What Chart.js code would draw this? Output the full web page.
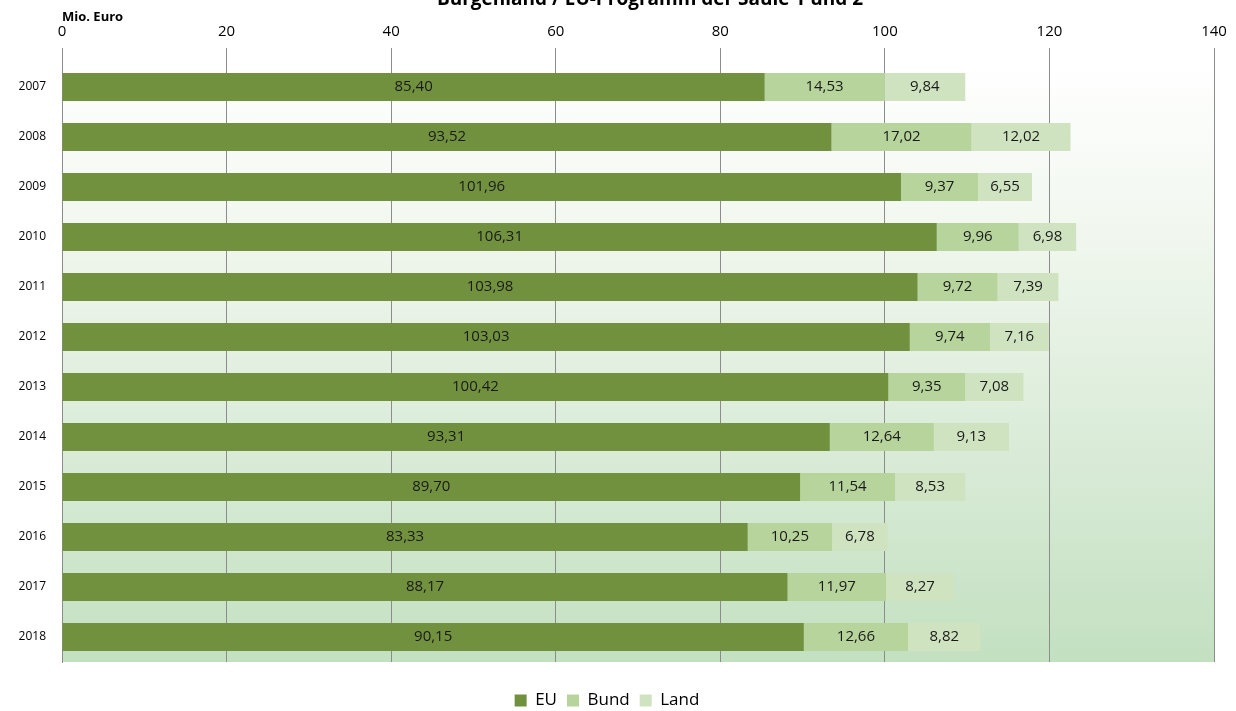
<!DOCTYPE html>
<html>
<head>
<meta charset="utf-8">
<script src="https://cdn.jsdelivr.net/npm/chart.js@4/dist/chart.umd.min.js"></script>
<style>
  body { margin:0; background:#fff; }
  #wrap { position:absolute; left:0; top:0; width:1236px; height:711px; }
</style>
</head>
<body>
<div id="wrap"><canvas id="mycanvas"></canvas></div>
<script>
var years = ['2007','2008','2009','2010','2011','2012','2013','2014','2015','2016','2017','2018'];
var eu   = [85.40, 93.52, 101.96, 106.31, 103.98, 103.03, 100.42, 93.31, 89.70, 83.33, 88.17, 90.15];
var bund = [14.53, 17.02, 9.37, 9.96, 9.72, 9.74, 9.35, 12.64, 11.54, 10.25, 11.97, 12.66];
var land = [9.84, 12.02, 6.55, 6.98, 7.39, 7.16, 7.08, 9.13, 8.53, 6.78, 8.27, 8.82];
var xTicks = [0, 20, 40, 60, 80, 100, 120, 140];

var FONT = "'Open Sans', 'Liberation Sans', sans-serif";

// gradient behind the plot area
var bgPlugin = {
  id: 'bg',
  afterLayout: function(chart){
    // push the legend a bit further down, like the original
    chart.legend.top += 20;
    chart.legend.bottom += 20;
  },
  beforeDraw: function(chart){
    var a = chart.chartArea, ctx = chart.ctx;
    var g = ctx.createLinearGradient(0, a.top, 0, a.bottom);
    g.addColorStop(0, '#ffffff');
    g.addColorStop(0.25, '#f3f8f1');
    g.addColorStop(1, '#c3e0c1');
    ctx.save();
    ctx.fillStyle = g;
    ctx.fillRect(a.left, a.top, a.right - a.left, a.bottom - a.top);
    ctx.restore();
  }
};

// numbers inside the bars, German comma
var labelPlugin = {
  id: 'vals',
  afterDatasetsDraw: function(chart){
    var ctx = chart.ctx;
    ctx.save();
    ctx.font = '15px ' + FONT;
    ctx.fillStyle = '#1a1a1a';
    ctx.textAlign = 'center';
    ctx.textBaseline = 'middle';
    chart.data.datasets.forEach(function(ds, i){
      chart.getDatasetMeta(i).data.forEach(function(bar, j){
        var cx = (bar.x + bar.base) / 2;
        ctx.fillText(ds.data[j].toFixed(2).replace('.', ','), cx, bar.y);
      });
    });
    // title, cut at the top edge like the original
    ctx.font = 'bold 19px ' + FONT;
    ctx.fillStyle = '#000';
    ctx.fillText('Burgenland / EU-Programm der Säule 1 und 2', 650, 0);
    ctx.restore();
  }
};

var chartdata = {
  labels: years,
  datasets: [
    { label:'EU',   backgroundColor:'#71913f', data:eu },
    { label:'Bund', backgroundColor:'#b6d49b', data:bund },
    { label:'Land', backgroundColor:'#cfe3c0', data:land }
  ]
};

var barGraph = new Chart(document.getElementById('mycanvas'), {
  type: 'bar',
  data: chartdata,
  plugins: [bgPlugin, labelPlugin],
  options: {
    indexAxis: 'y',
    responsive: true,
    maintainAspectRatio: false,
    animation: false,
    datasets: { bar: { barPercentage: 0.56, categoryPercentage: 1.0 } },
    layout: { padding: { left: 0, right: 22, top: 0, bottom: 12 } },
    plugins: {
      legend: {
        position: 'bottom',
        labels: { boxWidth: 12, boxHeight: 12, padding: 10, color: '#000', font: { family: FONT, size: 17 } }
      },
      tooltip: { enabled: false }
    },
    scales: {
      x: {
        position: 'top',
        stacked: true,
        min: 0, max: 140,
        afterBuildTicks: function(s){ s.ticks = xTicks.map(function(v){ return { value: v }; }); },
        ticks: { color: '#000', font: { family: FONT, size: 15 }, padding: 7 },
        grid: { color: '#8c8c8c', lineWidth: 1, tickLength: 14, drawTicks: true },
        border: { display: false },
        title: { display: true, text: 'Mio. Euro', align: 'start', color: '#000',
                 font: { family: FONT, size: 13, weight: 'bold' }, padding: { top: 9, bottom: 0 } },
        afterFit: function(s){ s.height = 62; }
      },
      y: {
        stacked: true,
        ticks: { color: '#000', font: { family: FONT, size: 12 }, padding: 8 },
        grid: { display: false },
        border: { display: true, color: '#8c8c8c' },
        afterFit: function(s){ s.width = 62; }
      }
    }
  }
});
</script>
</body>
</html>
